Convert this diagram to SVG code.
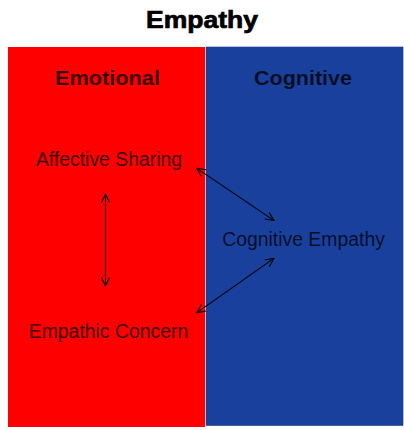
<svg xmlns="http://www.w3.org/2000/svg" width="404" height="430" viewBox="0 0 404 430">
<defs>
<style>
.t{font-family:"Liberation Sans",Arial,sans-serif;text-anchor:middle;fill:#000;fill-opacity:0.78}
.h{font-weight:bold;font-size:21px}
.n{font-size:19.4px}
.c{fill:none;stroke:#000;stroke-width:1.1;stroke-opacity:0.85}
</style>
<marker id="ah" viewBox="0 0 10 10" refX="9.5" refY="5" markerWidth="10" markerHeight="10" markerUnits="userSpaceOnUse" orient="auto-start-reverse">
<path d="M1,1 L9.5,5 L1,9" fill="none" stroke="#000" stroke-width="1.1"/>
</marker>
</defs>
<rect width="404" height="430" fill="#fff"/>
<text x="202" y="28" style="font-family:'Liberation Sans',Arial,sans-serif;font-weight:bold;font-size:24px;text-anchor:middle;stroke:#000;stroke-width:0.7" textLength="112" lengthAdjust="spacingAndGlyphs">Empathy</text>
<g id="emotional">
<rect x="8" y="47" width="197" height="380" fill="#ff0000"/>
<text class="t h" x="107.5" y="85" textLength="105" lengthAdjust="spacingAndGlyphs">Emotional</text>
</g>
<g id="cognitive">
<rect x="206" y="47" width="197" height="378.5" fill="#1a409e" stroke="#163888" stroke-width="0.6"/>
<text class="t h" x="303" y="85" textLength="98" lengthAdjust="spacingAndGlyphs">Cognitive</text>
</g>
<g id="affective-sharing"><text class="t n" x="109" y="166">Affective Sharing</text></g>
<g id="cognitive-empathy"><text class="t n" x="303.5" y="246">Cognitive Empathy</text></g>
<g id="empathic-concern"><text class="t n" x="108.5" y="337.5">Empathic Concern</text></g>
<g id="connectors">
<line class="c" x1="196.7" y1="168.3" x2="274" y2="220.5" marker-start="url(#ah)" marker-end="url(#ah)"/>
<line class="c" x1="274" y1="258.3" x2="196.7" y2="312.7" marker-start="url(#ah)" marker-end="url(#ah)"/>
<line class="c" x1="105.5" y1="194" x2="105.5" y2="286" marker-start="url(#ah)" marker-end="url(#ah)"/>
</g>
</svg>
